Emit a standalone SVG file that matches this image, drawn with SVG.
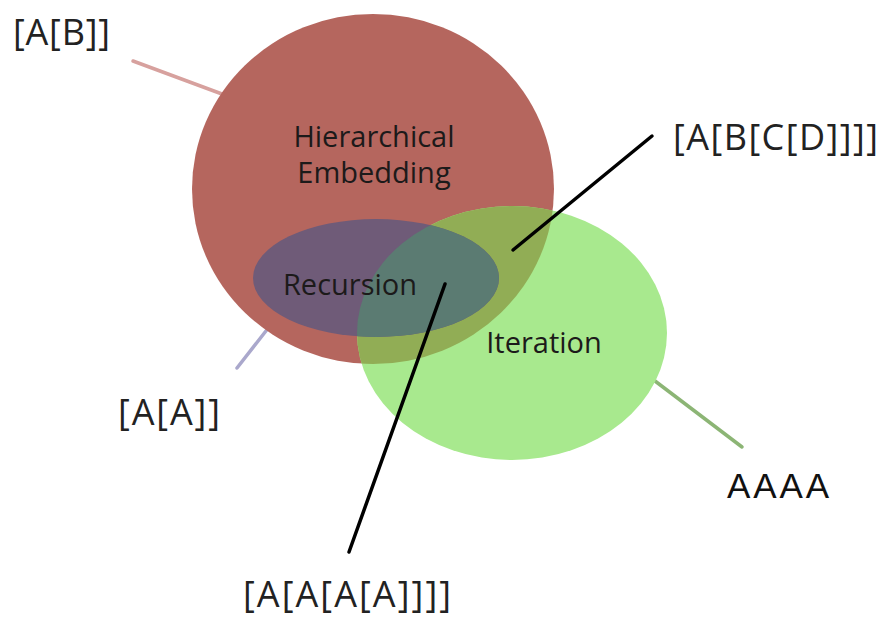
<svg xmlns="http://www.w3.org/2000/svg" width="883" height="617" viewBox="0 0 883 617">
  <style>
    .inner { font-family: "Open Sans", "Liberation Sans", sans-serif; font-size: 29px; fill: #1c1a1a; text-anchor: middle; }
    .label { font-family: "Open Sans", "Liberation Sans", sans-serif; font-size: 36px; fill: #222; }
    .plain { font-family: "Liberation Sans", Arial, sans-serif; font-size: 35px; fill: #111; }
    .conn { stroke-width: 3.5; stroke-linecap: round; fill: none; }
  </style>
  <defs>
    <clipPath id="clipGreen">
      <ellipse cx="512" cy="333" rx="155" ry="127"/>
    </clipPath>
    <clipPath id="clipRed">
      <ellipse cx="373" cy="189" rx="181" ry="175"/>
    </clipPath>
  </defs>
  <rect width="883" height="617" fill="#ffffff"/>

  <g id="connectors-back">
    <line class="conn" x1="133" y1="61" x2="222" y2="94" stroke="#d7a19e"/>
    <line class="conn" x1="237" y1="368" x2="280" y2="313" stroke="#aaa8cc"/>
    <line class="conn" x1="655" y1="381" x2="742" y2="447" stroke="#8cb575"/>
  </g>

  <g id="hierarchical-embedding">
    <ellipse cx="373" cy="189" rx="181" ry="175" fill="#b5665e"/>
  </g>

  <g id="iteration">
    <ellipse cx="512" cy="333" rx="155" ry="127" fill="#a8e98e"/>
    <ellipse cx="373" cy="189" rx="181" ry="175" fill="#91ad55" clip-path="url(#clipGreen)"/>
  </g>

  <g id="recursion">
    <ellipse cx="376" cy="278" rx="123" ry="59" fill="#6f5b78"/>
    <ellipse cx="376" cy="278" rx="123" ry="59" fill="#5b7b72" clip-path="url(#clipGreen)"/>
  </g>

  <g id="inner-labels">
    <text class="inner" x="374" y="147">Hierarchical</text>
    <text class="inner" x="374" y="183">Embedding</text>
    <text class="inner" x="350" y="295">Recursion</text>
    <text class="inner" x="544" y="353">Iteration</text>
  </g>

  <g id="connectors">
    <line class="conn" x1="513" y1="250" x2="652" y2="136" stroke="#000"/>
    <line class="conn" x1="445" y1="284" x2="349" y2="552" stroke="#000"/>
  </g>

  <g id="outer-labels">
    <text class="label" x="13" y="45" textLength="97">[A[B]]</text>
    <text class="label" x="118" y="425" textLength="102">[A[A]]</text>
    <text class="label" x="673" y="150" textLength="205">[A[B[C[D]]]]</text>
    <text class="label" x="243" y="607" textLength="208">[A[A[A[A]]]]</text>
    <text class="plain" x="727" y="498" textLength="102">AAAA</text>
  </g>
</svg>
